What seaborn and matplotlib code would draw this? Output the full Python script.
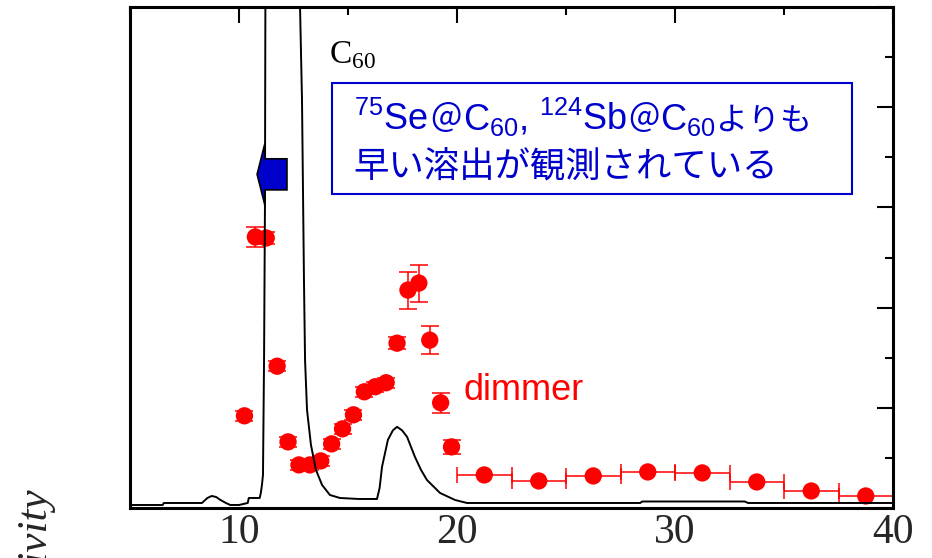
import matplotlib
matplotlib.use("Agg")
import numpy as np
import pandas as pd
import seaborn as sns
import matplotlib.pyplot as plt
from matplotlib.patches import FancyArrow, Rectangle
from matplotlib.transforms import IdentityTransform
from matplotlib.ticker import MultipleLocator

# --- UV chromatogram (retention time / min, absorbance in axis units) ---
chrom_t = [5.0, 6.5, 6.55, 8.3, 8.55, 8.75, 8.95, 9.15, 9.4, 9.6, 10.0, 10.4,
           10.45, 10.95, 11.0, 11.05, 11.1, 11.15, 11.19, 11.21, 11.3, 12.0,
           12.7, 12.8, 12.89, 12.94, 12.98, 13.03, 13.12, 13.3, 13.53, 13.81,
           14.17, 14.63, 15.5, 16.33, 16.45, 16.56, 16.83, 17.06, 17.25, 17.48,
           17.71, 18.07, 18.35, 18.62, 19.22, 19.91, 20.46, 28.4, 28.5, 33.2,
           33.35, 40.0]
chrom_y = [0.06, 0.06, 0.10, 0.10, 0.20, 0.24, 0.22, 0.16, 0.10, 0.06, 0.06, 0.10,
           0.20, 0.20, 0.30, 0.45, 0.66, 3.0, 6.0, 10.0, 20.0, 40.0,
           16.0, 10.0, 8.14, 6.15, 4.55, 2.95, 1.96, 1.26, 0.76, 0.46,
           0.26, 0.20, 0.18, 0.18, 0.40, 0.82, 1.36, 1.55, 1.62, 1.55,
           1.42, 1.02, 0.76, 0.56, 0.30, 0.16, 0.10, 0.10, 0.13, 0.13,
           0.10, 0.10]

# --- radioactivity of collected fractions (0.5 min fractions) ---
frac_t = [10.25, 10.75, 11.25, 11.75, 12.25, 12.75, 13.25, 13.75, 14.25, 14.75,
          15.25, 15.75, 16.25, 16.75, 17.25, 17.75, 18.25, 18.75, 19.25, 19.75]
frac_a = [1.84, 5.41, 5.39, 2.83, 1.32, 0.86, 0.86, 0.94, 1.28, 1.58,
          1.86, 2.32, 2.42, 2.50, 3.29, 4.35, 4.49, 3.35, 2.10, 1.22]
frac_err = [0.10, 0.20, 0.12, 0.10, 0.10, 0.10, 0.10, 0.10, 0.10, 0.10,
            0.10, 0.10, 0.10, 0.10, 0.12, 0.37, 0.37, 0.28, 0.20, 0.14]

# --- later fractions collected over 2.5 min windows ---
bin_t = [21.25, 23.75, 26.25, 28.75, 31.25, 33.75, 36.25, 38.75]
bin_a = [0.66, 0.54, 0.64, 0.72, 0.70, 0.52, 0.34, 0.24]
bin_half = [1.25] * len(bin_t)

xtick_vals = [10, 20, 30, 40]
xtick_text = ["10", "20", "30", "40"]

BLUE = "#0000CC"
RED = "#FF0000"

sns.set_theme(style="white")
plt.rcParams["font.family"] = ["Liberation Sans", "Noto Sans CJK JP", "DejaVu Sans"]

fig = plt.figure(figsize=(9.32, 5.58), dpi=100)
ax = fig.add_axes([130 / 932, 1 - 508 / 558, 763 / 932, 501 / 558])

chrom = pd.DataFrame({"t": chrom_t, "y": chrom_y})
frac = pd.DataFrame({"t": frac_t, "a": frac_a, "err": frac_err})
late = pd.DataFrame({"t": bin_t, "a": bin_a, "half": bin_half})

# error bars, then markers, then the chromatogram on top
ax.errorbar(frac["t"], frac["a"], yerr=frac["err"], fmt="none", ecolor=RED,
            elinewidth=1.1, capsize=6.2, capthick=1.1, zorder=2)
ax.errorbar(late["t"], late["a"], xerr=late["half"], fmt="none", ecolor=RED,
            elinewidth=1.1, capsize=6.0, capthick=1.1, zorder=2)
sns.scatterplot(data=frac, x="t", y="a", ax=ax, s=155, color=RED,
                edgecolor="none", zorder=3, legend=False)
sns.scatterplot(data=late, x="t", y="a", ax=ax, s=155, color=RED,
                edgecolor="none", zorder=3, legend=False)
sns.lineplot(data=chrom, x="t", y="y", ax=ax, sort=False, estimator=None,
             color="black", lw=1.4, zorder=4)

ax.set_xlim(5, 40)
ax.set_ylim(0, 10)
ax.set_xlabel("")
ax.set_ylabel("")
ax.set_xticks(xtick_vals)
ax.set_xticklabels(xtick_text, fontfamily="Liberation Serif", fontsize=30)
ax.xaxis.set_minor_locator(MultipleLocator(5))
ax.yaxis.set_major_locator(MultipleLocator(2))
ax.yaxis.set_minor_locator(MultipleLocator(1))
ax.tick_params(which="both", direction="in", top=True, right=True,
               color="black", width=1.5, labelleft=False)
ax.tick_params(which="major", length=11.5, pad=4)
ax.tick_params(which="minor", length=6)
for sp in ax.spines.values():
    sp.set_visible(True)
    sp.set_color("black")
    sp.set_linewidth(2.2)

# elution direction arrow
ax.add_patch(FancyArrow(12.2, 6.66, -1.37, 0, width=0.62, head_width=1.24,
                        head_length=0.36, length_includes_head=True,
                        facecolor=BLUE, edgecolor="black", lw=1.2, zorder=5))

ax.text(14.13, 8.88, r"C$_\mathregular{60}$", fontfamily="Liberation Serif",
        fontsize=24, color="black", ha="left", va="baseline", zorder=6)
ax.text(20.28, 2.16, "dimmer", fontfamily="Liberation Sans", fontsize=26,
        color=RED, ha="left", va="baseline", zorder=6)

fig.text(37 / 932, 1 - 489 / 558, "Radioactivity", rotation=90, ha="center",
         va="top", fontfamily="Liberation Serif", style="italic", fontsize=31)

# annotation box (pixel coordinates, origin bottom-left)
H = 558
ax.add_patch(Rectangle((332, H - 194), 520, 111, transform=IdentityTransform(),
                       facecolor="white", edgecolor=BLUE, lw=1.5, zorder=6))

renderer = fig.canvas.get_renderer()


def draw_runs(x0, y_top, runs):
    x = x0
    for item in runs:
        if isinstance(item, (int, float)):
            x += item
            continue
        s, fam, size = item
        t = fig.text(x, H - y_top, s, transform=IdentityTransform(),
                     fontfamily=fam, fontsize=size, color=BLUE,
                     ha="left", va="baseline", zorder=7)
        x = t.get_window_extent(renderer).x1


LAT, JP = "Liberation Sans", "Noto Sans CJK JP"
draw_runs(354, 130, [
    (r"$^{\mathregular{75}}$Se", LAT, 26),
    1,
    ("＠", JP, 24),
    1,
    (r"C$_\mathregular{60}$,", LAT, 26),
    11,
    (r"$^{\mathregular{124}}$Sb", LAT, 26),
    0,
    ("＠", JP, 24),
    0,
    (r"C$_\mathregular{60}$", LAT, 26),
    ("よりも", JP, 23),
])
draw_runs(353, 176, [("早い溶出が観測されている", JP, 25.5)])

fig.savefig("out.png", dpi=100)
